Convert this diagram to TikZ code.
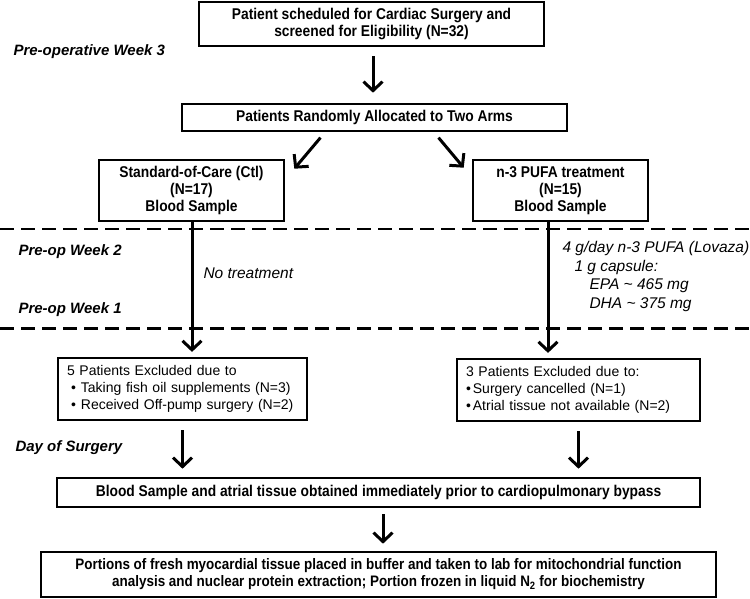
\documentclass[tikz,border=0pt]{standalone}
\usepackage{fontspec}
\setmainfont{Liberation Sans}
\newfontfamily\condfont[FakeStretch=0.885]{Liberation Sans}
\usetikzlibrary{arrows.meta}
\newcommand{\boxfont}{\condfont\fontsize{15.6}{17}\selectfont\bfseries}
\newcommand{\lblfont}{\fontsize{15}{17}\selectfont\bfseries\itshape}
\newcommand{\notefont}{\fontsize{15.5}{19}\selectfont\itshape}
\newcommand{\exclfont}{\fontsize{14}{17}\selectfont}

\begin{document}
\begin{tikzpicture}[x=1pt, y=-1pt]
\tikzset{box/.style = {draw, line width=2.6pt, inner sep=0pt, align=center, font=\boxfont}}
\tikzset{exclbox/.style = {draw, line width=2.2pt, inner xsep=9pt, inner ysep=0pt, align=left, font=\exclfont}}
\tikzset{edge/.style = {-{Straight Barb[length=9pt, width=19pt]}, line width=3pt}}
\tikzset{phase/.style = {dashed, dash pattern=on 14pt off 7pt, line width=2.4pt}}

   \useasboundingbox (0,0) rectangle (750,599);

   \node[box, minimum width=345, minimum height=44] (screen) at (371.5,24)
     {Patient scheduled for Cardiac Surgery and\\screened for Eligibility (N=32)};
   \node[box, minimum width=385, minimum height=27] (alloc) at (374.5,117.5)
     {Patients Randomly Allocated to Two Arms};
   \node[box, minimum width=185, minimum height=61] (ctl) at (191.5,190.5)
     {Standard-of-Care (Ctl)\\(N=17)\\Blood Sample};
   \node[box, minimum width=175, minimum height=61] (pufa) at (560.5,190.5)
     {n-3 PUFA treatment\\(N=15)\\Blood Sample};

   % time labels
   \node[anchor=west, font=\lblfont] (wk3) at (10,52) {Pre-operative Week 3};
   \node[anchor=west, font=\lblfont] (wk2) at (15,252) {Pre-op Week 2};
   \node[anchor=west, font=\lblfont] (wk1) at (15,310) {Pre-op Week 1};
   \node[anchor=west, font=\lblfont] (dos) at (12,448) {Day of Surgery};

   \draw[phase] (0,229) -- (750,229);
   \draw[phase] (0,328.5) -- (750,328.5);

   \node[anchor=west, font=\notefont] (notreat) at (200,273) {No treatment};
   \node[anchor=west, font=\notefont] (dose) at (559,248) {4 g/day n-3 PUFA (Lovaza)};
   \node[anchor=west, font=\notefont] (caps) at (571,267) {1 g capsule:};
   \node[anchor=west, font=\notefont] (epa) at (586,286) {EPA \textasciitilde{} 465 mg};
   \node[anchor=west, font=\notefont] (dha) at (586,305) {DHA \textasciitilde{} 375 mg};

   \node[exclbox, text width=231pt, minimum height=62] (exclL) at (182.5,389)
     {5 Patients Excluded due to\\
      \hspace{4pt}\textbullet\hspace{5pt}Taking fish oil supplements (N=3)\\
      \hspace{4pt}\textbullet\hspace{5pt}Received Off-pump surgery (N=2)};
   \node[exclbox, text width=225pt, minimum height=62] (exclR) at (578.5,390)
     {3 Patients Excluded due to:\\
      \textbullet\hspace{2pt}Surgery cancelled (N=1)\\
      \textbullet\hspace{2pt}Atrial tissue not available (N=2)};

   \node[box, minimum width=643, minimum height=29] (blood) at (378.5,492.5)
     {Blood Sample and atrial tissue obtained immediately prior to cardiopulmonary bypass};
   \node[box, minimum width=675, minimum height=45, font=\condfont\fontsize{15.2}{17}\selectfont\bfseries] (final) at (378.5,574.5)
     {Portions of fresh myocardial tissue placed in buffer and taken to lab for mitochondrial function\\
      analysis and nuclear protein extraction; Portion frozen in liquid N\textsubscript{2} for biochemistry};

   \draw[edge, shorten <=9pt, shorten >=10pt] ([xshift=1.5pt]screen.south) -- ([xshift=1.5pt]screen.south |- alloc.north);
   \draw[edge, shorten <=7pt] ([xshift=-49.5pt]alloc.south) -- ([xshift=9pt, yshift=-10pt]ctl.north east);
   \draw[edge, shorten <=7pt] ([xshift=59.5pt]alloc.south) -- ([xshift=-8pt, yshift=-9pt]pufa.north west);
   \draw[edge, shorten >=5pt] ([xshift=0.5pt]ctl.south) -- ([xshift=0.5pt]ctl.south |- exclL.north);
   \draw[edge, shorten >=5pt] ([xshift=-12.5pt]pufa.south) -- ([xshift=-12.5pt]pufa.south |- exclR.north);
   \draw[edge, shorten <=9pt, shorten >=8pt] (exclL.south) -- (exclL.south |- blood.north);
   \draw[edge, shorten <=9pt, shorten >=8pt] (exclR.south) -- (exclR.south |- blood.north);
   \draw[edge, shorten <=6pt, shorten >=7pt] ([xshift=4.5pt]blood.south) -- ([xshift=4.5pt]blood.south |- final.north);

\end{tikzpicture}
\end{document}
